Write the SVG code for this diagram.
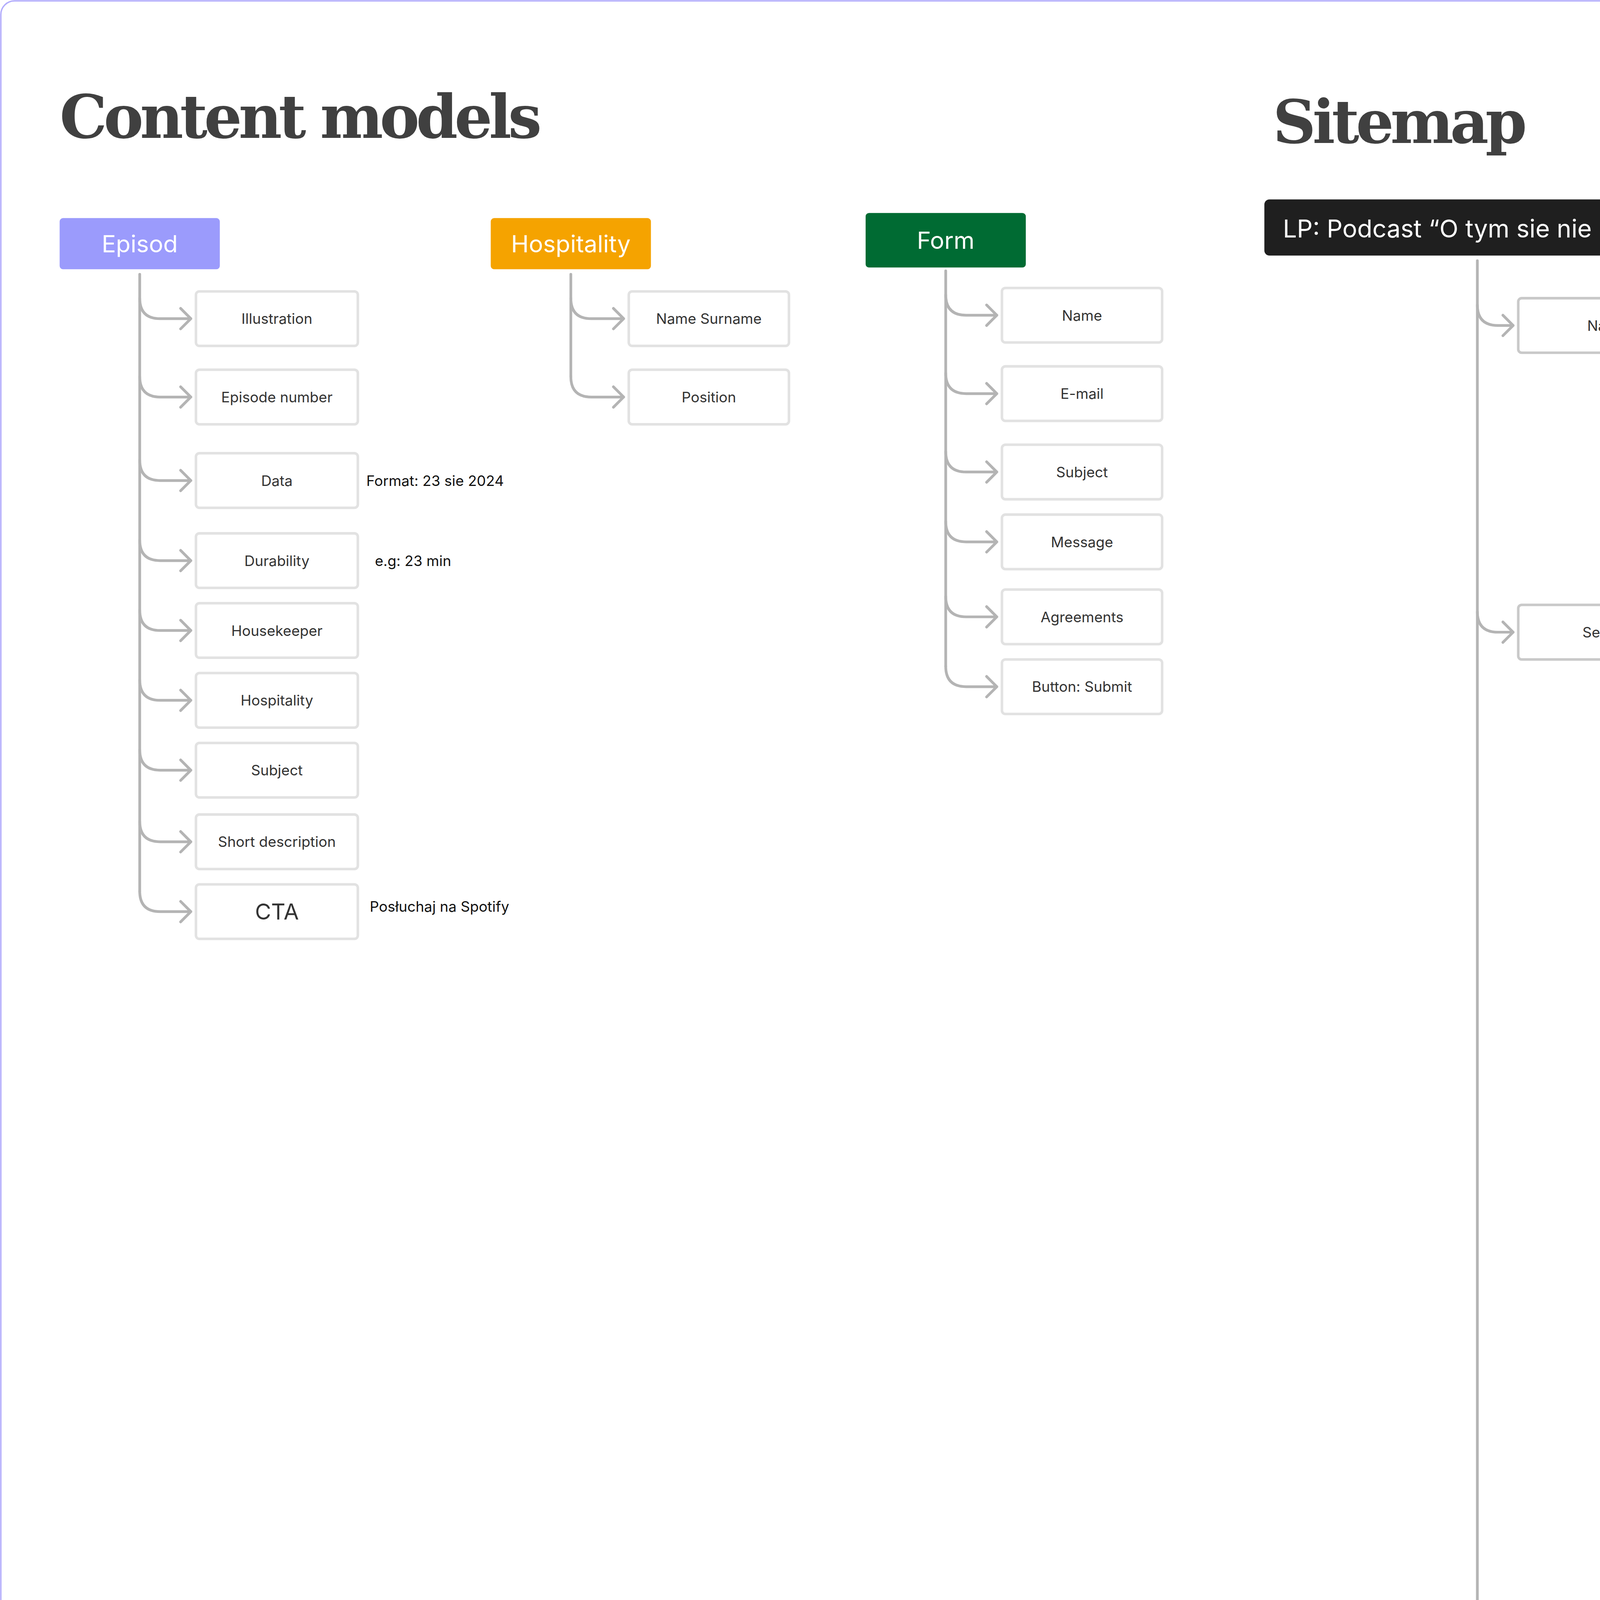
<svg xmlns="http://www.w3.org/2000/svg" width="6094" height="6842" viewBox="0 0 6094 6842">
<style>
.t{font-family:Inter,"Liberation Sans",sans-serif;font-size:8.5px;fill:#333;text-anchor:middle;dominant-baseline:central}
.n{font-family:Inter,"Liberation Sans",sans-serif;font-size:8.5px;fill:#111;dominant-baseline:central}
.w{font-family:Inter,"Liberation Sans",sans-serif;font-size:14px;fill:#fff;text-anchor:middle;dominant-baseline:central}
.h{font-family:"DejaVu Serif","Liberation Serif",serif;font-weight:bold;font-size:35px;fill:#404040;letter-spacing:-2px}
.b1{fill:#fff;stroke:#e2e2e2;stroke-width:1.5}
.b2{fill:#fff;stroke:#c9c9c9;stroke-width:1.5}
.c path{fill:none;stroke:#b4b4b4;stroke-width:1.6;stroke-linecap:round;stroke-linejoin:round}
</style>
<g transform="scale(4.3622)">
<rect x="0.5" y="0.5" width="1396" height="1567" rx="8" fill="#fff" stroke="#b3adfc" stroke-width="0.8"/>
<text class="h" x="35" y="81">Content models</text>
<text class="h" x="747" y="84">Sitemap</text>

<g class="c">
<path d="M82 161V523"/>
<path d="M82 175Q82 187 94 187H112M106 181L112 187L106 193"/>
<path d="M82 221Q82 233 94 233H112M106 227L112 233L106 239"/>
<path d="M82 270Q82 282 94 282H112M106 276L112 282L106 288"/>
<path d="M82 317Q82 329 94 329H112M106 323L112 329L106 335"/>
<path d="M82 358Q82 370 94 370H112M106 364L112 370L106 376"/>
<path d="M82 399Q82 411 94 411H112M106 405L112 411L106 417"/>
<path d="M82 440Q82 452 94 452H112M106 446L112 452L106 458"/>
<path d="M82 482Q82 494 94 494H112M106 488L112 494L106 500"/>
<path d="M82 523Q82 535 94 535H112M106 529L112 535L106 541"/>
<path d="M335 161V221"/>
<path d="M335 175Q335 187 347 187H366M360 181L366 187L360 193"/>
<path d="M335 221Q335 233 347 233H366M360 227L366 233L360 239"/>
<path d="M555 159V391"/>
<path d="M555 173Q555 185 567 185H585M579 179L585 185L579 191"/>
<path d="M555 219Q555 231 567 231H585M579 225L585 231L579 237"/>
<path d="M555 265Q555 277 567 277H585M579 271L585 277L579 283"/>
<path d="M555 306Q555 318 567 318H585M579 312L585 318L579 324"/>
<path d="M555 350Q555 362 567 362H585M579 356L585 362L579 368"/>
<path d="M555 391Q555 403 567 403H585M579 397L585 403L579 409"/>
<path d="M867 153V1314"/>
<path d="M867 179Q867 191 879 191H888M882 185L888 191L882 197"/>
<path d="M867 359Q867 371 879 371H888M882 365L888 371L882 377"/>
<path d="M867 1314Q867 1326 879 1326H888M882 1320L888 1326L882 1332"/>
<path d="M946 209V306"/>
<path d="M946 225Q946 237 958 237H976M970 231L976 237L970 243"/>
<path d="M946 265Q946 277 958 277H976M970 271L976 277L970 283"/>
<path d="M946 306Q946 318 958 318H976M970 312L976 318L970 324"/>
<path d="M946 390V1218"/>
<path d="M946 399Q946 411 958 411H976M970 405L976 411L970 417"/>
<path d="M946 654Q946 666 958 666H976M970 660L976 666L970 672"/>
<path d="M946 748Q946 760 958 760H976M970 754L976 760L970 766"/>
<path d="M946 843Q946 855 958 855H976M970 849L976 855L970 861"/>
<path d="M946 900Q946 912 958 912H976M970 906L976 912L970 918"/>
<path d="M946 978Q946 990 958 990H976M970 984L976 990L970 996"/>
<path d="M946 1078Q946 1090 958 1090H976M970 1084L976 1090L970 1096"/>
<path d="M946 1170Q946 1182 958 1182H976M970 1176L976 1182L970 1188"/>
<path d="M946 1218Q946 1230 958 1230H976M970 1224L976 1230L970 1236"/>
<path d="M1035 430V601"/>
<path d="M1035 437Q1035 449 1047 449H1065M1059 443L1065 449L1059 455"/>
<path d="M1035 476Q1035 488 1047 488H1065M1059 482L1065 488L1059 494"/>
<path d="M1035 518Q1035 530 1047 530H1065M1059 524L1065 530L1059 536"/>
<path d="M1035 560Q1035 572 1047 572H1065M1059 566L1065 572L1059 578"/>
<path d="M1035 601Q1035 613 1047 613H1065M1059 607L1065 613L1059 619"/>
<path d="M1035 686V694Q1035 706 1047 706H1065M1059 700L1065 706L1059 712"/>
<path d="M1035 780V786Q1035 798 1047 798H1065M1059 792L1065 798L1059 804"/>
<path d="M1035 932V939Q1035 951 1047 951H1065M1059 945L1065 951L1059 957"/>
<path d="M1035 1010V1028Q1035 1040 1047 1040H1065M1059 1034L1065 1040L1059 1046"/>
<path d="M1035 1110V1124Q1035 1136 1047 1136H1065M1059 1130L1065 1136L1059 1142"/>
<path d="M1035 1250V1264Q1035 1276 1047 1276H1065M1059 1270L1065 1276L1059 1282"/>
<path d="M946 1346V1489"/>
<path d="M946 1360Q946 1372 958 1372H976M970 1366L976 1372L970 1378"/>
<path d="M946 1403Q946 1415 958 1415H976M970 1409L976 1415L970 1421"/>
<path d="M946 1446Q946 1458 958 1458H976M970 1452L976 1458L970 1464"/>
<path d="M946 1489Q946 1501 958 1501H976M970 1495L976 1501L970 1507"/>
</g>

<g id="episod-model"><rect x="35" y="128" width="94" height="30" rx="2" fill="#9b9bfc"/><text class="w" x="82" y="143">Episod</text></g>
<g id="e-illustration"><rect class="b1" x="115" y="171" width="95" height="32" rx="2"/><text class="t" x="162.5" y="187">Illustration</text></g>
<g id="e-number"><rect class="b1" x="115" y="217" width="95" height="32" rx="2"/><text class="t" x="162.5" y="233">Episode number</text></g>
<g id="e-data"><rect class="b1" x="115" y="266" width="95" height="32" rx="2"/><text class="t" x="162.5" y="282">Data</text><text class="n" x="215" y="282">Format: 23 sie 2024</text></g>
<g id="e-durability"><rect class="b1" x="115" y="313" width="95" height="32" rx="2"/><text class="t" x="162.5" y="329">Durability</text><text class="n" x="220" y="329">e.g: 23 min</text></g>
<g id="e-housekeeper"><rect class="b1" x="115" y="354" width="95" height="32" rx="2"/><text class="t" x="162.5" y="370">Housekeeper</text></g>
<g id="e-hospitality"><rect class="b1" x="115" y="395" width="95" height="32" rx="2"/><text class="t" x="162.5" y="411">Hospitality</text></g>
<g id="e-subject"><rect class="b1" x="115" y="436" width="95" height="32" rx="2"/><text class="t" x="162.5" y="452">Subject</text></g>
<g id="e-short"><rect class="b1" x="115" y="478" width="95" height="32" rx="2"/><text class="t" x="162.5" y="494">Short description</text></g>
<g id="e-cta"><rect class="b1" x="115" y="519" width="95" height="32" rx="2"/><text class="t" x="162.5" y="535" style="font-size:13px">CTA</text><text class="n" x="217" y="532">Posłuchaj na Spotify</text></g>

<g id="hospitality-model"><rect x="288" y="128" width="94" height="30" rx="2" fill="#f5a300"/><text class="w" x="335" y="143">Hospitality</text></g>
<g id="h-name"><rect class="b1" x="369" y="171" width="94" height="32" rx="2"/><text class="t" x="416" y="187">Name Surname</text></g>
<g id="h-position"><rect class="b1" x="369" y="217" width="94" height="32" rx="2"/><text class="t" x="416" y="233">Position</text></g>

<g id="form-model"><rect x="508" y="125" width="94" height="32" rx="2" fill="#006b33"/><text class="w" x="555" y="141">Form</text></g>
<g id="f-name"><rect class="b1" x="588" y="169" width="94" height="32" rx="2"/><text class="t" x="635" y="185">Name</text></g>
<g id="f-email"><rect class="b1" x="588" y="215" width="94" height="32" rx="2"/><text class="t" x="635" y="231">E-mail</text></g>
<g id="f-subject"><rect class="b1" x="588" y="261" width="94" height="32" rx="2"/><text class="t" x="635" y="277">Subject</text></g>
<g id="f-message"><rect class="b1" x="588" y="302" width="94" height="32" rx="2"/><text class="t" x="635" y="318">Message</text></g>
<g id="f-agreements"><rect class="b1" x="588" y="346" width="94" height="32" rx="2"/><text class="t" x="635" y="362">Agreements</text></g>
<g id="f-submit"><rect class="b1" x="588" y="387" width="94" height="32" rx="2"/><text class="t" x="635" y="403">Button: Submit</text></g>

<g id="lp"><rect x="742" y="117" width="250" height="33" rx="3" fill="#1f1f1f"/><text class="w" x="867" y="134" style="font-size:14.5px">LP: Podcast “O tym sie nie mówi”</text></g>
<g id="navbar"><rect class="b2" x="891" y="175" width="110" height="32" rx="2"/><text class="t" x="946" y="191">Navbar</text></g>
<g id="strong-logo"><rect class="b2" x="980" y="221" width="109" height="32" rx="2"/><text class="t" x="1034.5" y="237">Strong logo</text></g>
<g id="link-content"><rect class="b2" x="980" y="261" width="109" height="32" rx="2"/><text class="t" x="1034.5" y="277">#Link to content</text><text class="n" x="1098" y="277">Scroll-down menu</text></g>
<g id="contact"><rect class="b2" x="980" y="302" width="109" height="32" rx="2"/><text class="t" x="1034.5" y="318">Contact</text><text class="n" x="1098" y="318">Message, Instagram</text></g>

<g id="sections"><rect class="b2" x="891" y="355" width="110" height="32" rx="2"/><text class="t" x="946" y="371">Sections</text></g>
<g id="hero"><rect class="b2" x="980" y="395" width="109" height="32" rx="2"/><text class="t" x="1034.5" y="411">Hero</text></g>
<g id="social-proof"><rect class="b2" x="1070" y="433" width="109" height="32" rx="2"/><text class="t" x="1124.5" y="449">Social proof kicker</text><text class="n" x="1188" y="449">Proove traction</text></g>
<g id="main-headline"><rect class="b2" x="1070" y="472" width="109" height="32" rx="2"/><text class="t" x="1124.5" y="488">Main hedline</text><text class="n" x="1188" y="488">Problem→ Solution</text></g>
<g id="description"><rect class="b2" x="1070" y="514" width="109" height="32" rx="2"/><text class="t" x="1124.5" y="530">Description text</text><text class="n" x="1188" y="530">Not longer than 3 lines</text></g>
<g id="hero-cta"><rect class="b2" x="1070" y="556" width="109" height="32" rx="2"/><text class="t" x="1124.5" y="572">CTA</text><text class="n" x="1188" y="572">Clear main action</text></g>
<g id="key-visual"><rect class="b2" x="1070" y="597" width="109" height="32" rx="2"/><text class="t" x="1124.5" y="613">Key visual</text></g>

<g id="last-episod"><rect class="b2" x="980" y="650" width="109" height="32" rx="2"/><text class="t" x="1034.5" y="666">Last episod</text></g>
<g id="episod-ref1"><rect x="1070" y="690" width="109" height="32" rx="2" fill="#9b9bfc" stroke="#c9c9c9" stroke-width="1.5"/><text class="w" x="1124.5" y="706" style="font-size:11px">Episod</text></g>
<g id="top-episodes"><rect class="b2" x="980" y="744" width="109" height="32" rx="2"/><text class="t" x="1034.5" y="760">Top episodes</text></g>
<g id="episod-ref2"><rect x="1070" y="782" width="109" height="32" rx="2" fill="#9b9bfc" stroke="#c9c9c9" stroke-width="1.5"/><text class="w" x="1124.5" y="798" style="font-size:11px">#Episod</text></g>
<g id="platforms"><rect class="b2" x="980" y="839" width="109" height="32" rx="2"/><text class="t" x="1034.5" y="855">Platforms</text><text class="n" x="1098" y="855">Spotify, Apple podcast, Youtube, Speaker</text></g>
<g id="about-us"><rect class="b2" x="980" y="896" width="109" height="32" rx="2"/><text class="t" x="1034.5" y="912">About us</text></g>
<g id="instagram"><rect class="b2" x="1070" y="935" width="109" height="32" rx="2"/><text class="t" x="1124.5" y="951">Instagram →</text></g>
<g id="guests"><rect class="b2" x="980" y="974" width="109" height="32" rx="2"/><text class="t" x="1034.5" y="990">Distinguished guests</text></g>
<g id="hospitality-ref"><rect x="1070" y="1025" width="93" height="30" rx="2" fill="#f5a300"/><text class="w" x="1116.5" y="1040" style="font-size:11px">Hospitality</text></g>
<g id="last-episodes"><rect class="b2" x="980" y="1074" width="109" height="32" rx="2"/><text class="t" x="1034.5" y="1090">Last episodes</text></g>
<g id="episod-ref3"><rect x="1070" y="1120" width="109" height="32" rx="2" fill="#9b9bfc" stroke="#c9c9c9" stroke-width="1.5"/><text class="w" x="1124.5" y="1136" style="font-size:11px">#Episod</text></g>
<g id="testimonials"><rect class="b2" x="980" y="1166" width="109" height="32" rx="2"/><text class="t" x="1034.5" y="1182">Testimonials</text></g>
<g id="final-cta"><rect class="b2" x="980" y="1214" width="109" height="32" rx="2"/><text class="t" x="1034.5" y="1230">Final CTA</text></g>
<g id="form-ref"><rect x="1070" y="1261" width="93" height="30" rx="2" fill="#006b33"/><text class="w" x="1116.5" y="1276" style="font-size:11px">Form</text></g>

<g id="footer"><rect class="b2" x="891" y="1310" width="110" height="32" rx="2"/><text class="t" x="946" y="1326">Footer</text></g>
<g id="logo"><rect class="b2" x="980" y="1356" width="109" height="32" rx="2"/><text class="t" x="1034.5" y="1372">Logo</text></g>
<g id="motto"><rect class="b2" x="980" y="1399" width="109" height="32" rx="2"/><text class="t" x="1034.5" y="1415">Motto</text></g>
<g id="contact-sociale"><rect class="b2" x="980" y="1442" width="109" height="32" rx="2"/><text class="t" x="1034.5" y="1458">Contact/Sociale</text></g>
<g id="legal"><rect class="b2" x="980" y="1485" width="109" height="32" rx="2"/><text class="t" x="1034.5" y="1501">Legal</text></g>
</g>
</svg>
